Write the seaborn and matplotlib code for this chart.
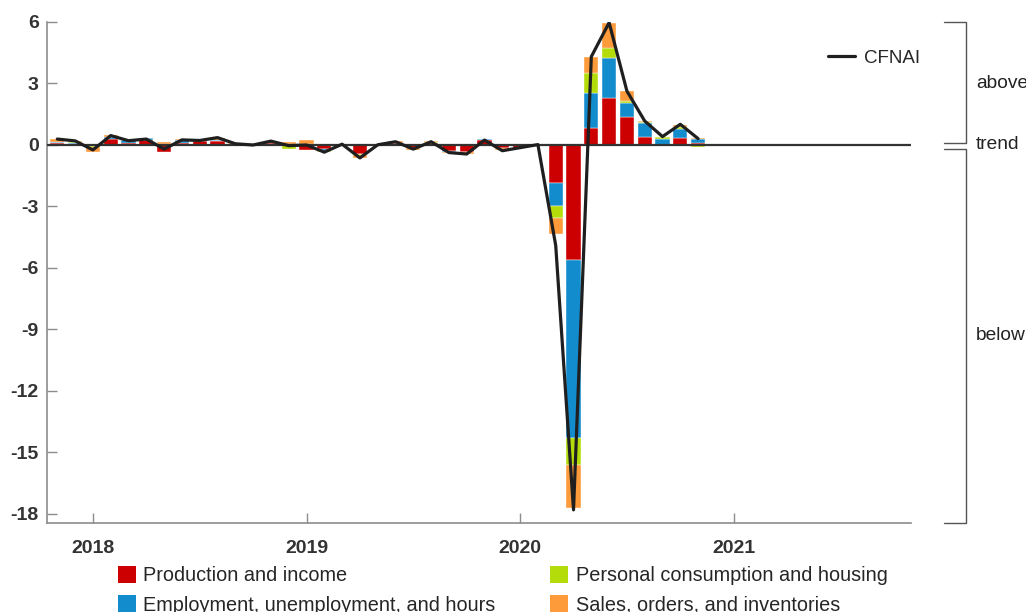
import numpy as np
import pandas as pd
import seaborn as sns
import matplotlib.pyplot as plt
from matplotlib.patches import Patch
import matplotlib.transforms as mtransforms

# monthly data, Nov 2017 .. Nov 2020
months = pd.date_range('2017-11-01', '2020-11-01', freq='MS')
production = [0.12, 0.05, -0.02, 0.30, 0.10, 0.25, -0.36, 0.12, 0.20, 0.20, 0.03, -0.03, 0.10,
              -0.02, -0.24, -0.20, -0.03, -0.42, -0.02, 0.10, -0.16, 0.10, -0.30, -0.33, 0.24,
              -0.16, -0.16, 0.03, -1.87, -5.61, 0.85, 2.31, 1.38, 0.37, 0.02, 0.36, 0.11]
employment = [0.03, 0.07, 0.06, 0.08, 0.12, 0.08, 0.04, 0.10, 0.03, 0.05, 0.03, 0.04, 0.08,
              0.05, 0.02, -0.08, 0.00, 0.03, 0.03, 0.02, 0.02, 0.02, -0.03, -0.03, 0.03,
              0.00, 0.03, 0.03, -1.11, -8.69, 1.69, 1.95, 0.68, 0.69, 0.26, 0.44, 0.16]
consumption = [0.00, 0.02, -0.06, 0.00, 0.00, 0.00, 0.03, 0.00, 0.00, 0.00, -0.04, 0.00, 0.00,
               -0.18, 0.05, -0.06, 0.06, -0.05, 0.00, 0.00, 0.00, 0.02, 0.00, 0.00, 0.00,
               0.00, 0.00, -0.02, -0.60, -1.30, 0.96, 0.45, 0.08, 0.06, 0.13, 0.06, -0.08]
sales = [0.14, 0.05, -0.25, 0.10, 0.02, 0.00, 0.06, 0.05, 0.02, 0.10, 0.02, -0.02, 0.02,
         0.10, 0.18, 0.02, 0.00, -0.18, 0.00, 0.06, -0.09, 0.05, -0.08, -0.08, -0.03,
         -0.10, 0.02, -0.02, -0.76, -2.12, 0.79, 1.26, 0.49, 0.03, 0.00, 0.13, 0.07]
cfnai = [0.29, 0.20, -0.24, 0.46, 0.21, 0.29, -0.20, 0.25, 0.22, 0.36, 0.06, 0.00, 0.19,
         -0.03, 0.00, -0.35, 0.04, -0.63, 0.01, 0.16, -0.20, 0.16, -0.37, -0.44, 0.24,
         -0.28, -0.13, 0.02, -4.90, -17.80, 4.31, 5.97, 2.63, 1.17, 0.41, 1.01, 0.31]

labels = ['Production and income', 'Employment, unemployment, and hours',
          'Personal consumption and housing', 'Sales, orders, and inventories']
colors = ['#cc0000', '#138ccd', '#b3dc0a', '#fd9a3a']
year_ticks = [2018, 2019, 2020, 2021]
y_ticks = [6, 3, 0, -3, -6, -9, -12, -15, -18]

sns.set_theme(style='white')
plt.rcParams['font.family'] = ['Liberation Sans', 'DejaVu Sans']

xs = np.array([d.year + (d.month - 1) / 12 for d in months])
comps = np.array([production, employment, consumption, sales])

fig = plt.figure(figsize=(10.26, 6.12), dpi=100)
ax = fig.add_axes([47 / 1026, 1 - 523 / 612, (911 - 47) / 1026, (523 - 22) / 612])

pos_bottom = np.zeros(len(xs))
neg_bottom = np.zeros(len(xs))
for vals, col in zip(comps, colors):
    bottom = np.where(vals >= 0, pos_bottom, neg_bottom)
    ax.bar(xs, vals, bottom=bottom, width=0.8 / 12, color=col,
           edgecolor='white', linewidth=0.3, zorder=2)
    pos_bottom += np.where(vals >= 0, vals, 0)
    neg_bottom += np.where(vals < 0, vals, 0)

ax.axhline(0, color='#333333', lw=1.6, zorder=3)
sns.lineplot(x=xs, y=cfnai, ax=ax, color='#1f1f1f', linewidth=2.3, label='CFNAI', zorder=4)

ax.set_xlim(2017.785, 2021.83)
ax.set_ylim(-18.44, 6)
ax.set_xticks(year_ticks)
ax.set_xticklabels([str(y) for y in year_ticks])
ax.set_yticks(y_ticks)
ax.set_yticklabels([str(y) for y in y_ticks])
for s in ['top', 'right']:
    ax.spines[s].set_visible(False)
for s in ['left', 'bottom']:
    ax.spines[s].set_color('#8c8c8c')
    ax.spines[s].set_linewidth(1.2)
ax.tick_params(axis='both', direction='in', length=7, width=1, color='#8c8c8c',
               bottom=True, left=True, labelsize=14, labelcolor='#333333')
ax.tick_params(axis='x', pad=12)
ax.tick_params(axis='y', pad=6)
for t in ax.get_xticklabels() + ax.get_yticklabels():
    t.set_fontweight('bold')

ax.legend(loc='upper right', bbox_to_anchor=(1.03, 0.978), frameon=False, fontsize=13.5,
          handlelength=1.45, handletextpad=0.45)

# brackets on the right
tr = mtransforms.blended_transform_factory(ax.transAxes, ax.transData)
bx, tx0 = 1.0637, 1.038
bc = '#555555'
ax.plot([tx0, bx, bx, tx0], [6, 6, 0.1, 0.1], color=bc, lw=1, transform=tr, clip_on=False)
ax.plot([tx0, bx, bx, tx0], [-0.2, -0.2, -18.44, -18.44], color=bc, lw=1, transform=tr, clip_on=False)
ax.text(1.075, 3, 'above', transform=tr, va='center', ha='left', fontsize=13.8, color='#222222')
ax.text(1.075, 0, 'trend', transform=tr, va='center', ha='left', fontsize=13.8, color='#222222')
ax.text(1.075, -9.3, 'below', transform=tr, va='center', ha='left', fontsize=13.8, color='#222222')

handles = [Patch(facecolor=c, edgecolor='none') for c in colors]
fig.legend(handles, labels, ncol=2, loc='upper left', bbox_to_anchor=(108 / 1026, 1 - 556 / 612),
           frameon=False, fontsize=14.3, handlelength=0.9, handleheight=0.95,
           handletextpad=0.38, columnspacing=2.75, labelspacing=0.5, borderpad=0)

fig.savefig('out.png', dpi=100)
